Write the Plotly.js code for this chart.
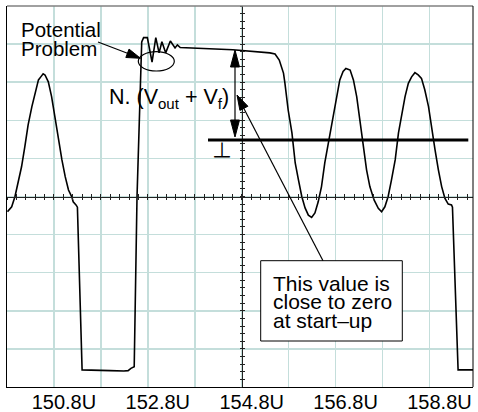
<!DOCTYPE html>
<html><head><meta charset="utf-8">
<script src="https://cdn.plot.ly/plotly-3.0.1.min.js"></script>
<style>html,body{margin:0;padding:0;background:#fff}</style>
</head><body><div id="chart" style="width:478px;height:412px"></div>
<script>
// ---- data (time in µs "U", signal in screen divisions) ----
const timeU = [149.81,149.90,149.97,150.04,150.11,150.18,150.25,150.33,150.40,150.47,
  150.52,150.57,150.61,150.68,150.75,150.82,150.89,150.97,151.04,151.11,
  151.18,151.21,151.27,151.30,
  151.40,151.57,152.00,152.29,152.38,152.44,152.51,
  152.57,152.67,152.71,152.79,152.89,152.97,153.04,153.10,153.18,153.28,153.38,153.43,153.49,153.91,154.61,
  155.40,155.51,155.60,155.69,155.72,155.79,155.87,155.94,156.01,156.08,
  156.15,156.22,156.29,156.36,156.43,156.50,156.57,156.68,156.79,156.89,
  156.96,157.02,157.11,157.18,157.25,157.32,157.39,157.46,157.53,157.62,
  157.71,157.78,157.85,157.92,157.99,158.07,158.14,158.21,158.28,158.35,
  158.42,158.49,158.56,158.63,158.70,158.78,158.85,158.92,158.99,159.06,
  159.13,159.20,159.27,159.29,159.41,159.73];
const signal = [-0.40,-0.27,0.00,0.35,0.78,1.31,1.88,2.36,2.75,3.06,
  3.14,3.22,3.19,3.01,2.62,2.09,1.48,0.96,0.52,0.17,
  -0.01,-0.14,-0.22,-0.28,
  -4.55,-4.56,-4.57,-4.58,-4.57,-4.51,-4.47,
  0.00,4.06,4.17,4.17,3.53,4.17,3.77,4.06,3.77,4.08,3.90,3.98,3.91,3.88,3.85,
  3.77,3.74,3.58,3.24,2.98,2.27,1.67,0.88,0.43,0.00,
  -0.30,-0.49,-0.55,-0.43,-0.14,0.26,0.88,1.67,2.45,3.06,
  3.28,3.36,3.32,3.06,2.62,2.01,1.31,0.70,0.26,-0.09,
  -0.31,-0.40,-0.27,0.00,0.43,0.96,1.67,2.19,2.62,2.97,
  3.14,3.25,3.19,3.10,2.80,2.36,1.75,1.22,0.70,0.26,
  -0.05,-0.20,-0.22,-0.28,-4.55,-4.55];
const tickValues = [150.8,152.8,154.8,156.8,158.8];
const tickLabels = ['150.8U','152.8U','154.8U','156.8U','158.8U'];

// ---- geometry ----
const W=478,H=412,ML=7,MR=5,MT=6,MB=25;
const PW=W-ML-MR, PH=H-MT-MB;
const xMin=149.8, xMax=149.8+PW/46.94;
const yMin=-5, yMax=5;
const X = px => xMin + (px-ML)*(xMax-xMin)/PW;
const Y = py => yMax - (py-MT)*(yMax-yMin)/PH;
const gridColor = '#c4dedb';
const FONT = 'Liberation Sans, Arial, Helvetica, sans-serif';

function head(tx,ty,fx,fy,len,hw){
  const dx=tx-fx, dy=ty-fy, d=Math.hypot(dx,dy), ux=dx/d, uy=dy/d;
  const bx=tx-ux*len, by=ty-uy*len;
  const p1=[bx-uy*hw, by+ux*hw], p2=[bx+uy*hw, by-ux*hw];
  return {type:'path', xref:'x', yref:'y', layer:'above',
    path:`M${X(tx)},${Y(ty)} L${X(p1[0])},${Y(p1[1])} L${X(p2[0])},${Y(p2[1])} Z`,
    fillcolor:'#000', line:{color:'#000', width:1}};
}
function seg(x0,y0,x1,y1,w,c){
  return {type:'line', xref:'x', yref:'y', layer:'above',
    x0:X(x0), y0:Y(y0), x1:X(x1), y1:Y(y1), line:{color:c||'#000', width:w||1.2}};
}
function txt(s, left, baseline, size, extra){
  return Object.assign({text:s, xref:'x', yref:'y', x:X(left-1), y:Y(baseline - 0.905*size - 1),
    xanchor:'left', yanchor:'top', showarrow:false, font:{family:FONT, size:size, color:'#000'}}, extra||{});
}

const crossCommon = {range:[xMin,xMax], showline:true, linecolor:'#222', linewidth:1.2,
  tickcolor:'#222', tickwidth:1, showticklabels:false, showgrid:false, zeroline:false};
const layout = {
  width:W, height:H, margin:{l:ML, r:MR, t:MT, b:MB, pad:0},
  paper_bgcolor:'#fff', plot_bgcolor:'#fff', showlegend:false,
  xaxis:{range:[xMin,xMax], tickmode:'array', tickvals:tickValues, ticktext:tickLabels,
    ticks:'', ticklabelshift:10, ticklabelstandoff:-3,
    tickfont:{family:FONT, size:20, color:'#000'},
    showgrid:true, gridcolor:gridColor, gridwidth:1.5,
    minor:{tickmode:'linear', tick0:149.8, dtick:1, showgrid:true, gridcolor:gridColor, gridwidth:1.5},
    showline:true, linecolor:'#000', linewidth:1, zeroline:false},
  yaxis:{range:[yMin,yMax], tickmode:'linear', tick0:-5, dtick:1, showticklabels:false, ticks:'',
    showgrid:true, gridcolor:gridColor, gridwidth:1.5, showline:true, linecolor:'#000', linewidth:1, zeroline:false},
  xaxis2:Object.assign({}, crossCommon, {overlaying:'x', anchor:'free', position:0.5, side:'bottom',
    ticks:'outside', ticklen:2.5, tickmode:'linear', tick0:149.8, dtick:0.2}),
  xaxis3:Object.assign({}, crossCommon, {overlaying:'x', anchor:'free', position:0.5, side:'bottom',
    ticks:'inside', ticklen:2.5, tickmode:'linear', tick0:149.8, dtick:0.2}),
  yaxis2:Object.assign({}, crossCommon, {range:[yMin,yMax], overlaying:'y', anchor:'free',
    position:(154.8-xMin)/(xMax-xMin), side:'left', ticks:'outside', ticklen:2, tickmode:'linear', tick0:-5, dtick:0.2}),
  yaxis3:Object.assign({}, crossCommon, {range:[yMin,yMax], overlaying:'y', anchor:'free',
    position:(154.8-xMin)/(xMax-xMin), side:'left', ticks:'inside', ticklen:2, tickmode:'linear', tick0:-5, dtick:0.2}),
  shapes:[
    {type:'line', xref:'paper', yref:'paper', x0:0, x1:1, y0:1, y1:1, line:{color:'#808080', width:1.5}, layer:'above'},
    {type:'line', xref:'paper', yref:'paper', x0:1, x1:1, y0:0, y1:1, line:{color:'#000', width:1}, layer:'above'},
    seg(208,140,468.3,140,2.8),
    {type:'circle', xref:'x', yref:'y', layer:'above', x0:X(138.3), x1:X(174.3), y0:Y(51.7), y1:Y(71),
      line:{color:'#000', width:1.2}},
    {type:'rect', xref:'x', yref:'y', layer:'above', x0:X(260.7), x1:X(402.3), y0:Y(260.7), y1:Y(341),
      fillcolor:'#fff', line:{color:'#000', width:1}},
    seg(235,62,235,125,1.2), head(235,50,235,137,17,4.5), head(235,137,235,50,17,4.5),
    seg(323,260.7,241,103,1.2), head(237,95,323,260.7,15,4.5),
    seg(98,42,134,55.8,1.2), head(140.5,58.3,98,42,14,4.5)
  ],
  annotations:[
    txt('Potential',20,36,20.5), txt('Problem',20,55,20.5),
    txt('N. (V<sub>out</sub> + V<sub>f</sub>)',108,103,21.5),
    txt('This value is',272.3,290,21), txt('close to zero',272.3,307.7,21), txt('at start\u2013up',272.3,326.7,21),
    {text:'\u22A5', xref:'x', yref:'y', x:X(222.3), y:Y(166), xanchor:'center', yanchor:'bottom',
      showarrow:false, font:{family:'Noto Sans CJK JP, sans-serif', size:20, color:'#000000'}}
  ]
};
const traces = [
  {type:'scatter', mode:'lines', x:timeU, y:signal, line:{color:'#000', width:1.6}, hoverinfo:'skip'},
  {type:'scatter', x:[], y:[], xaxis:'x2', yaxis:'y'},
  {type:'scatter', x:[], y:[], xaxis:'x3', yaxis:'y'},
  {type:'scatter', x:[], y:[], xaxis:'x', yaxis:'y2'},
  {type:'scatter', x:[], y:[], xaxis:'x', yaxis:'y3'}
];
Plotly.newPlot('chart', traces, layout, {staticPlot:true, displayModeBar:false});
</script></body></html>
